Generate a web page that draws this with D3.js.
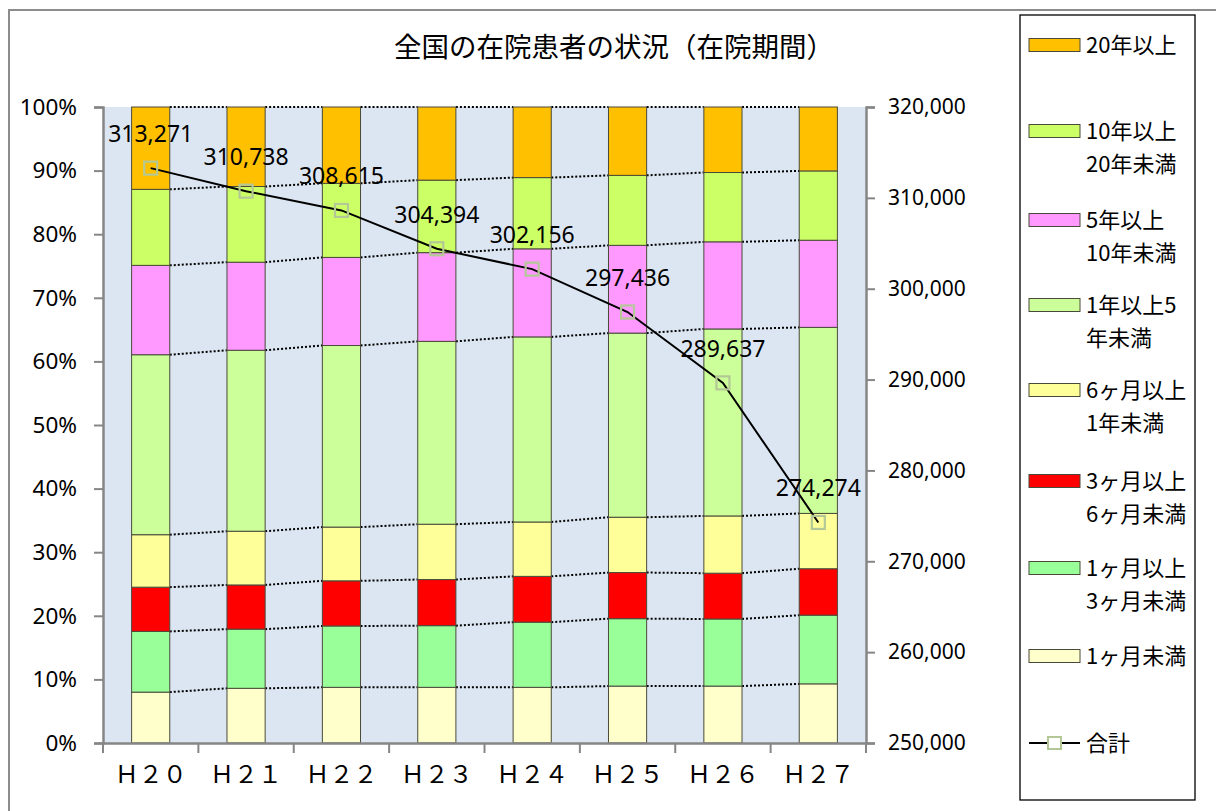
<!DOCTYPE html>
<html><head><meta charset="utf-8">
<script src="https://cdn.jsdelivr.net/npm/d3@7"></script>
<style>body{margin:0;background:#fff}svg{display:block}</style>
</head><body>
<svg id="c" width="1216" height="811"></svg>
<script>
const categories = ["Ｈ２０","Ｈ２１","Ｈ２２","Ｈ２３","Ｈ２４","Ｈ２５","Ｈ２６","Ｈ２７"];
const seriesNames = ["1ヶ月未満","1ヶ月以上3ヶ月未満","3ヶ月以上6ヶ月未満","6ヶ月以上1年未満","1年以上5年未満","5年以上10年未満","10年以上20年未満","20年以上"];
// percentage shares per series (bottom to top), one value per category
const s1m   = [8.0, 8.6, 8.75, 8.75, 8.75, 8.95, 8.95, 9.3];
const s1_3m = [9.55, 9.3, 9.65, 9.7, 10.25, 10.6, 10.55, 10.8];
const s3_6m = [6.95, 6.95, 7.1, 7.25, 7.2, 7.25, 7.2, 7.3];
const s6m_1y= [8.25, 8.45, 8.45, 8.7, 8.55, 8.7, 9.0, 8.7];
const s1_5y = [28.3, 28.45, 28.55, 28.75, 29.1, 28.95, 29.4, 29.25];
const s5_10y= [14.05, 13.85, 13.85, 13.95, 13.85, 13.8, 13.7, 13.7];
const s10_20y=[11.95, 11.9, 11.65, 11.4, 11.2, 11.0, 10.9, 10.9];
const s20y  = [12.95, 12.5, 12.0, 11.5, 11.1, 10.75, 10.3, 10.05];
const totals = [313271, 310738, 308615, 304394, 302156, 297436, 289637, 274274];
const leftTicks = [0,10,20,30,40,50,60,70,80,90,100];
const rightTicks = [250000,260000,270000,280000,290000,300000,310000,320000];
const legendLabels = [["20年以上"],["10年以上","20年未満"],["5年以上","10年未満"],["1年以上5","年未満"],["6ヶ月以上","1年未満"],["3ヶ月以上","6ヶ月未満"],["1ヶ月以上","3ヶ月未満"],["1ヶ月未満"]];
const totalName = "合計";
const colors = ["#FFFFCC","#99FF99","#FF0000","#FFFF99","#CCFF99","#FF99FF","#CCFF66","#FFC000"];

const seriesValues = [s1m,s1_3m,s3_6m,s6m_1y,s1_5y,s5_10y,s10_20y,s20y];
const rows = categories.map((c,i)=>{const r={cat:c}; seriesNames.forEach((n,k)=>r[n]=seriesValues[k][i]); return r;});

const svg = d3.select("#c");
const L=103,R=866,T=107,B=743;
const jp = "'Noto Sans CJK JP','Noto Sans',sans-serif";
const num = "'Noto Sans','Open Sans',sans-serif";

// outer chart frame
svg.append("rect").attr("x",9).attr("y",10).attr("width",1240).attr("height",840)
  .attr("fill","#fff").attr("stroke","#8c8c8c").attr("stroke-width",2);

const x = d3.scaleBand().domain(categories).range([L,R]).paddingInner(0.6).paddingOuter(0.3);
const xb = d3.scaleBand().domain(categories).range([L,R]);
const y = d3.scaleLinear().domain([0,100]).range([B,T]);
const y2 = d3.scaleLinear().domain([250000,320000]).range([B,T]);

svg.append("rect").attr("x",L).attr("y",T).attr("width",R-L).attr("height",B-T).attr("fill","#DCE6F2");

// title
svg.append("text").attr("x",614).attr("y",57).attr("text-anchor","middle")
  .attr("font-family",jp).attr("font-size",27.5).attr("fill","#000").text("全国の在院患者の状況（在院期間）");

const stack = d3.stack().keys(seriesNames)(rows);

// series lines (dotted)
const bw = x.bandwidth();
stack.forEach(layer=>{
  for(let i=0;i<layer.length-1;i++){
    svg.append("line")
      .attr("x1",x(categories[i])+bw).attr("y1",y(layer[i][1]))
      .attr("x2",x(categories[i+1])).attr("y2",y(layer[i+1][1]))
      .attr("stroke","#000").attr("stroke-width",2).attr("stroke-dasharray","2,2");
  }
});

// bars
stack.forEach((layer,k)=>{
  svg.append("g").selectAll("rect").data(layer).join("rect")
    .attr("x",d=>x(d.data.cat)).attr("width",bw)
    .attr("y",d=>y(d[1])).attr("height",d=>y(d[0])-y(d[1]))
    .attr("fill",colors[k]).attr("stroke","#4a4a3a").attr("stroke-width",1);
});

// axes
const axC="#868686";
const gl = svg.append("g").attr("transform",`translate(${L},0)`)
  .call(d3.axisLeft(y).tickValues(leftTicks).tickSize(9).tickFormat(d=>d+"%"));
const gr = svg.append("g").attr("transform",`translate(${R},0)`)
  .call(d3.axisRight(y2).tickValues(rightTicks).tickSize(9).tickFormat(d3.format(",")));
const gb = svg.append("g").attr("transform",`translate(0,${B})`)
  .call(d3.axisBottom(xb).tickSize(0).tickFormat(d=>d));
[gl,gr,gb].forEach(g=>{
  g.select(".domain").attr("stroke",axC).attr("stroke-width",2.5);
  g.selectAll(".tick line").attr("stroke",axC).attr("stroke-width",2);
});
gl.selectAll(".tick text").attr("font-family",num).attr("font-size",22.5).attr("fill","#000").attr("x",-26);
gr.selectAll(".tick text").attr("font-family",num).attr("font-size",21).attr("fill","#000").attr("x",22);
gb.selectAll(".tick text").attr("font-family",jp).attr("font-size",24).attr("fill","#000").attr("dy",0).attr("y",40);
// category boundary ticks on bottom axis
const bounds = categories.map(c=>xb(c)).concat([R]);
svg.append("g").selectAll("line").data(bounds).join("line")
  .attr("x1",d=>d).attr("x2",d=>d).attr("y1",B).attr("y2",B+10)
  .attr("stroke",axC).attr("stroke-width",2);

// total line
const cx = c=>x(c)+bw/2;
svg.append("path").datum(totals)
  .attr("d",d3.line().x((d,i)=>cx(categories[i])).y(d=>y2(d)))
  .attr("fill","none").attr("stroke","#000").attr("stroke-width",2);
svg.append("g").selectAll("rect").data(totals).join("rect")
  .attr("x",(d,i)=>cx(categories[i])-6.5).attr("y",d=>y2(d)-6.5)
  .attr("width",13).attr("height",13).attr("fill","none")
  .attr("stroke","#B3C896").attr("stroke-width",2.2);
svg.append("g").selectAll("text").data(totals).join("text")
  .attr("x",(d,i)=>cx(categories[i])).attr("y",d=>y2(d)-26)
  .attr("text-anchor","middle").attr("font-family",num).attr("font-size",23).attr("fill","#000")
  .text(d=>d3.format(",")(d));

// legend
svg.append("rect").attr("x",1020).attr("y",15).attr("width",175).attr("height",785)
  .attr("fill","#fff").attr("stroke","#000").attr("stroke-width",1.3);
const legY = [45,131,220,305,390,481,568,656];
const order = [7,6,5,4,3,2,1,0];
order.forEach((k,j)=>{
  const cy = legY[j];
  svg.append("rect").attr("x",1029).attr("y",cy-6.5).attr("width",51).attr("height",13)
    .attr("fill",colors[k]).attr("stroke","#4a4a3a").attr("stroke-width",1);
  legendLabels[j].forEach((t,li)=>{
    svg.append("text").attr("x",1086).attr("y",cy+li*33).attr("dy","0.35em")
      .attr("font-family",jp).attr("font-size",22).attr("fill","#000").text(t);
  });
});
const ty=743;
svg.append("line").attr("x1",1029).attr("x2",1080).attr("y1",ty).attr("y2",ty).attr("stroke","#000").attr("stroke-width",2);
svg.append("rect").attr("x",1048).attr("y",ty-6).attr("width",13).attr("height",12).attr("fill","#fff").attr("stroke","#B3C896").attr("stroke-width",2);
svg.append("text").attr("x",1086).attr("y",ty).attr("dy","0.35em").attr("font-family",jp).attr("font-size",22).text(totalName);
</script>
</body></html>
